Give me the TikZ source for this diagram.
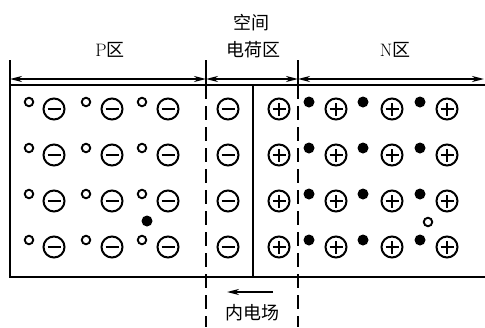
\documentclass[tikz,border=0pt]{standalone}
\usepackage{fontspec}
\newfontfamily\cjk{Noto Sans CJK SC}
\usetikzlibrary{arrows.meta}
\begin{document}
\begin{tikzpicture}[x=1pt, y=-1pt, line width=2pt,
  font=\cjk\fontsize{18}{20}\selectfont,
  ion/.style={draw, circle, minimum size=21pt, inner sep=0pt, line width=2pt},
  negion/.style={ion, path picture={
    \draw ([xshift=-6.5pt]path picture bounding box.center) -- ([xshift=6.5pt]path picture bounding box.center);}},
  posion/.style={ion, path picture={
    \draw ([xshift=-6.5pt]path picture bounding box.center) -- ([xshift=6.5pt]path picture bounding box.center);
    \draw ([yshift=-6.5pt]path picture bounding box.center) -- ([yshift=6.5pt]path picture bounding box.center);}},
  hole/.style={draw, circle, minimum size=8.5pt, inner sep=0pt, line width=1.9pt},
  elec/.style={fill, circle, minimum size=11pt, inner sep=0pt},
  dim/.style={{Stealth[length=12pt,width=6pt]}-{Stealth[length=12pt,width=6pt]}, line width=1.8pt},
  fld/.style={-{Stealth[length=12pt,width=6pt]}, line width=1.8pt},
  bnd/.style={dash pattern=on 14pt off 7pt}
]
  \useasboundingbox (0,0) rectangle (485,327);
  % region labels
  \node (plabel) at (110,50) {{\rmfamily P}区};
  \node (sclabel1) at (251,23) {空间};
  \node (sclabel2) at (253,50) {电荷区};
  \node (nlabel) at (395,50) {{\rmfamily N}区};
  % dimension line
  \coordinate (dL) at (10,79);
  \coordinate (dA) at (206,79);
  \coordinate (dB) at (298,79);
  \coordinate (dR) at (484,79);
  \draw[dim] (dL) -- (dA);
  \draw[dim] (dA) -- (dB);
  \draw[dim] (dB) -- (dR);
  % crystal outline
  \draw (10,60) -- (10,277) -- (485,277);
  \draw (10,85) -- (485,85);
  \draw (253,85) -- (253,277);
  % boundaries of the space charge region
  \draw (206,60) -- (206,85);
  \draw (298,60) -- (298,85);
  \draw[bnd] (206,85) -- (206,327);
  \draw[bnd] (298,85) -- (298,327);
  % ions and carriers
  \foreach \r/\y in {1/109,2/155,3/201,4/247} {
    \foreach \c/\x in {1/54,2/112,3/168,4/228}
      \node[negion] (neg-\r-\c) at (\x,\y) {};
    \foreach \c/\x in {1/29,2/86,3/142}
      \node[hole] (hole-\r-\c) at (\x,\y-7) {};
    \foreach \c/\x in {1/279,2/336,3/392,4/447}
      \node[posion] (pos-\r-\c) at (\x,\y) {};
    \foreach \c/\x in {1/309,2/363,3/420}
      \node[elec] (elec-\r-\c) at (\x,\y-7) {};
  }
  \node[elec] (elec-x) at (147,221) {};
  \node[hole] (hole-x) at (428,222) {};
  % built-in field
  \coordinate (fS) at (273,292);
  \coordinate (fE) at (227,292);
  \draw[fld] (fS) -- (fE);
  \node (flabel) at (252,313) {内电场};
\end{tikzpicture}
\end{document}
